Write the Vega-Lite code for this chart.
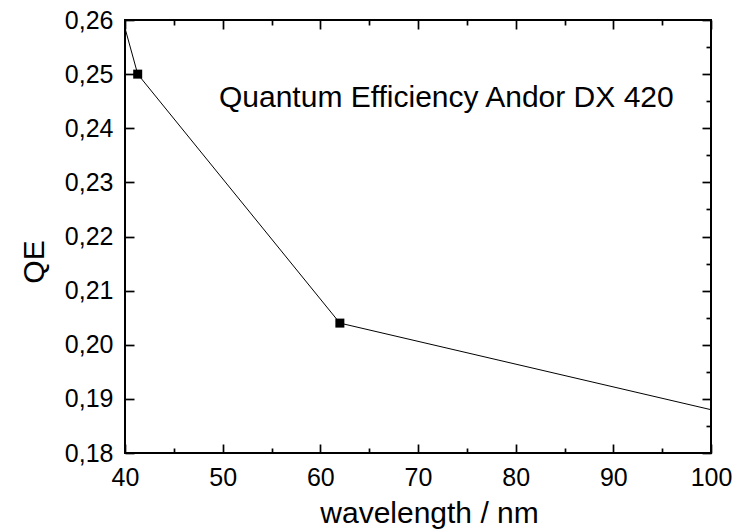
{
  "$schema": "https://vega.github.io/schema/vega-lite/v6.json",
  "width": 586,
  "height": 433,
  "padding": {"left": 125, "top": 20, "right": 35, "bottom": 76},
  "autosize": {"type": "none"},
  "config": {
    "font": "Liberation Sans",
    "view": {"stroke": "black", "strokeWidth": 2},
    "axis": {
      "domain": false,
      "grid": false,
      "tickColor": "black",
      "tickWidth": 1.7,
      "labelColor": "black",
      "labelFont": "Liberation Sans",
      "labelFontSize": 25,
      "titleFont": "Liberation Sans",
      "titleFontSize": 30,
      "titleFontWeight": "normal",
      "titleColor": "black"
    }
  },
  "datasets": {
    "qe": [
      {"wavelength": 40.0, "qe": 0.2585, "marker": false},
      {"wavelength": 41.3, "qe": 0.250, "marker": true},
      {"wavelength": 62.0, "qe": 0.204, "marker": true},
      {"wavelength": 100.0, "qe": 0.188, "marker": false}
    ],
    "label": [
      {"wavelength": 72.9, "qe": 0.2455, "text": "Quantum Efficiency Andor DX 420"}
    ]
  },
  "resolve": {"scale": {"x": "independent", "y": "independent"}, "axis": {"x": "independent", "y": "independent"}},
  "layer": [
    {
      "data": {"name": "qe"},
      "layer": [
        {
          "mark": {"type": "line", "color": "black", "strokeWidth": 1, "clip": true},
          "encoding": {
            "x": {
              "field": "wavelength", "type": "quantitative",
              "scale": {"domain": [40, 100], "nice": false, "zero": false},
              "axis": {
                "orient": "bottom",
                "title": "wavelength / nm",
                "values": [40, 45, 50, 55, 60, 65, 70, 75, 80, 85, 90, 95, 100],
                "tickSize": {"condition": {"test": "datum.value % 10 === 0", "value": -9}, "value": -5},
                "labelExpr": "datum.value % 10 === 0 ? datum.label : ''",
                "labelPadding": 21,
                "labelFlush": false,
                "labelOverlap": false,
                "titleX": 304,
                "titleY": 69,
                "titleAnchor": "middle",
                "titleAlign": "center",
                "titleBaseline": "alphabetic"
              }
            },
            "y": {
              "field": "qe", "type": "quantitative",
              "scale": {"domain": [0.18, 0.26], "nice": false, "zero": false},
              "axis": {
                "orient": "left",
                "title": "QE",
                "values": [0.18, 0.185, 0.19, 0.195, 0.2, 0.205, 0.21, 0.215, 0.22, 0.225, 0.23, 0.235, 0.24, 0.245, 0.25, 0.255, 0.26],
                "tickSize": {"condition": {"test": "round(datum.value * 1000) % 10 === 0", "value": -9}, "value": -5},
                "labelExpr": "round(datum.value * 1000) % 10 === 0 ? replace(format(datum.value, '.2f'), '.', ',') : ''",
                "labelPadding": 21,
                "labelFlush": false,
                "labelOverlap": false,
                "titleAngle": -90,
                "titleX": -82,
                "titleY": 241.5,
                "titleAlign": "center",
                "titleBaseline": "alphabetic"
              }
            }
          }
        },
        {
          "transform": [{"filter": "datum.marker"}],
          "mark": {"type": "square", "color": "black", "opacity": 1, "size": 81},
          "encoding": {
            "x": {"field": "wavelength", "type": "quantitative"},
            "y": {"field": "qe", "type": "quantitative"}
          }
        },
        {
          "data": {"name": "label"},
          "mark": {"type": "text", "font": "Liberation Sans", "fontSize": 30, "color": "black", "align": "center", "baseline": "middle"},
          "encoding": {
            "x": {"field": "wavelength", "type": "quantitative"},
            "y": {"field": "qe", "type": "quantitative"},
            "text": {"field": "text"}
          }
        }
      ]
    },
    {
      "data": {"name": "qe"},
      "mark": {"type": "point", "opacity": 0},
      "encoding": {
        "x": {
          "field": "wavelength", "type": "quantitative",
          "scale": {"domain": [40, 100], "nice": false, "zero": false},
          "axis": {
            "orient": "top",
            "title": null,
            "values": [40, 45, 50, 55, 60, 65, 70, 75, 80, 85, 90, 95, 100],
            "tickSize": {"condition": {"test": "datum.value % 10 === 0", "value": -9}, "value": -5},
            "labels": false
          }
        },
        "y": {
          "field": "qe", "type": "quantitative",
          "scale": {"domain": [0.18, 0.26], "nice": false, "zero": false},
          "axis": {
            "orient": "right",
            "title": null,
            "values": [0.18, 0.185, 0.19, 0.195, 0.2, 0.205, 0.21, 0.215, 0.22, 0.225, 0.23, 0.235, 0.24, 0.245, 0.25, 0.255, 0.26],
            "tickSize": {"condition": {"test": "round(datum.value * 1000) % 10 === 0", "value": -9}, "value": -5},
            "labels": false
          }
        }
      }
    }
  ]
}
